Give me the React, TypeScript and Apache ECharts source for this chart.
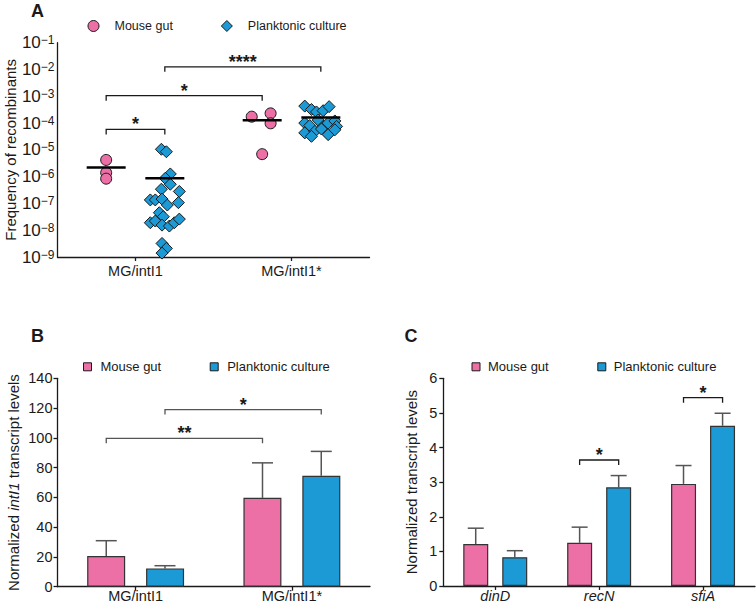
import React, { useEffect, useRef } from 'react';
import * as echarts from 'echarts';

const FONT = '"Liberation Sans", Arial, Helvetica, sans-serif';
const PINK = '#EC6FA6';
const BLUE = '#1B9AD6';
const INK = '#1a1a1a';
const GREY = '#555555';
const SIDE = 0.188; // offset of each series from category centre, in category widths

// ---------- Panel A: frequency of recombinants ----------
const A_CATEGORIES = ['MG/intI1', 'MG/intI1*'];
const A_MOUSE_GUT = [
  [4.2e-6, 1.4e-6, 8.4e-7],
  [1.73e-4, 2.3e-4, 9.8e-5, 6.9e-6],
];
const A_MOUSE_JITTER = [
  [0, 0, 0],
  [-0.067, 0.054, 0.054, 0],
];
const A_PLANKTONIC = [
  [1.05e-5, 8.5e-6, 1.26e-6, 8.7e-7, 5.2e-7, 3.4e-7, 2.8e-7, 1.35e-7, 1.35e-7, 1.46e-7, 8.7e-8, 1.07e-7,
    4.5e-8, 3.2e-8, 1.9e-8, 2.2e-8, 1.55e-8, 1.43e-8, 1.9e-8, 2.6e-8, 3.2e-9, 2.1e-9, 1.4e-9],
  [4.3e-4, 3.2e-4, 2.6e-4, 2.9e-4, 4.1e-4, 1.3e-4, 1.0e-4, 8.1e-5, 7.5e-5, 1.0e-4, 1.2e-4, 7.5e-5,
    4.3e-5, 4.9e-5, 6.0e-5, 3.7e-5, 5.6e-5, 3.2e-5],
];
const A_PLANKTONIC_JITTER = [
  [-0.022, 0.01, 0.035, 0.003, 0.035, -0.022, 0.093, -0.093, -0.061, -0.018, 0.016, 0.087,
    -0.035, -0.01, -0.093, -0.061, -0.018, 0.029, 0.061, 0.093, -0.018, 0.01, -0.018],
  [-0.103, -0.06, -0.028, 0.015, 0.053, -0.017, -0.103, -0.071, 0.015, 0.047, 0.09, 0.101,
    -0.103, -0.038, 0.004, 0.047, 0.09, -0.06],
];
const A_MEAN_MOUSE = [2.2e-6, 1.28e-4];
const A_MEAN_PLANKTONIC = [8.7e-7, 1.6e-4];
// [fromCategory, height, toCategory, fromSide, toSide]
const A_BRACKETS = [
  [0, 5.8e-5, 0, -1, 1],
  [0, 1.05e-3, 1, -1, -1],
  [0, 1.26e-2, 1, 1, 1],
];
const A_BRACKET_LABELS = ['*', '*', '****'];

// ---------- Panel B: intI1 transcript levels ----------
const B_CATEGORIES = ['MG/intI1', 'MG/intI1*'];
const B_MOUSE_GUT = [20.6, 59.7];
const B_MOUSE_GUT_SD = [10.3, 23.5];
const B_PLANKTONIC = [12.3, 74.5];
const B_PLANKTONIC_SD = [1.8, 16.4];
const B_BRACKETS = [
  [0, 99.7, 1, -1, -1],
  [0, 119, 1, 1, 1],
];
const B_BRACKET_LABELS = ['**', '*'];

// ---------- Panel C: SOS gene transcript levels ----------
const C_CATEGORIES = ['dinD', 'recN', 'sfiA'];
const C_MOUSE_GUT = [1.21, 1.25, 2.95];
const C_MOUSE_GUT_SD = [0.46, 0.45, 0.53];
const C_PLANKTONIC = [0.83, 2.85, 4.63];
const C_PLANKTONIC_SD = [0.19, 0.34, 0.36];
const C_BRACKETS = [
  [1, 3.64, 1, -1, 1],
  [2, 5.44, 2, -1, 1],
];
const C_BRACKET_LABELS = ['*', '*'];

const bandOf = (api: any, y: number) => api.coord([1, y])[0] - api.coord([0, y])[0];

function bracketSeries(xi: number, yi: number, data: number[][], labels: string[], color: string) {
  return {
    type: 'custom',
    xAxisIndex: xi,
    yAxisIndex: yi,
    clip: false,
    silent: true,
    z: 6,
    encode: { x: 0, y: 1 },
    data,
    renderItem: (params: any, api: any) => {
      const c0 = api.value(0);
      const y = api.value(1);
      const c1 = api.value(2);
      const s0 = api.value(3);
      const s1 = api.value(4);
      const band = bandOf(api, y);
      const p = api.coord([c0, y]);
      const q = api.coord([c1, y]);
      const x0 = p[0] + s0 * SIDE * band;
      const x1 = q[0] + s1 * SIDE * band;
      const py = p[1];
      return {
        type: 'group',
        children: [
          {
            type: 'polyline',
            shape: { points: [[x0, py + 5], [x0, py], [x1, py], [x1, py + 5]] },
            style: { stroke: color, lineWidth: 1.3, fill: null },
          },
          {
            type: 'text',
            x: (x0 + x1) / 2,
            y: py - 5,
            style: {
              text: labels[params.dataIndex],
              fontSize: 18,
              fontWeight: 'bold',
              fontFamily: FONT,
              fill: INK,
              align: 'center',
              verticalAlign: 'middle',
            },
          },
        ],
      };
    },
  };
}

function errorSeries(xi: number, yi: number, means: number[][], sds: number[][], cap: number) {
  const data: number[][] = [];
  means.forEach((arr, s) => {
    arr.forEach((m, c) => data.push([c, m, sds[s][c], s === 0 ? -1 : 1]));
  });
  return {
    type: 'custom',
    xAxisIndex: xi,
    yAxisIndex: yi,
    clip: false,
    silent: true,
    z: 1,
    encode: { x: 0, y: 1 },
    data,
    renderItem: (params: any, api: any) => {
      const c = api.value(0);
      const m = api.value(1);
      const sd = api.value(2);
      const side = api.value(3);
      const band = bandOf(api, m);
      const p0 = api.coord([c, m]);
      const p1 = api.coord([c, m + sd]);
      const x = p0[0] + side * SIDE * band;
      const st = { stroke: GREY, lineWidth: 1.5 };
      return {
        type: 'group',
        children: [
          { type: 'line', shape: { x1: x, y1: p0[1], x2: x, y2: p1[1] }, style: st },
          { type: 'line', shape: { x1: x - cap / 2, y1: p1[1], x2: x + cap / 2, y2: p1[1] }, style: st },
        ],
      };
    },
  };
}

function meanSeries(xi: number, yi: number) {
  const data: number[][] = [];
  A_MEAN_MOUSE.forEach((m, c) => data.push([c, m, -1]));
  A_MEAN_PLANKTONIC.forEach((m, c) => data.push([c, m, 1]));
  return {
    type: 'custom',
    xAxisIndex: xi,
    yAxisIndex: yi,
    clip: false,
    silent: true,
    z: 5,
    encode: { x: 0, y: 1 },
    data,
    renderItem: (params: any, api: any) => {
      const c = api.value(0);
      const m = api.value(1);
      const side = api.value(2);
      const band = bandOf(api, m);
      const p = api.coord([c, m]);
      const x = p[0] + side * SIDE * band;
      const hw = 0.125 * band;
      return {
        type: 'line',
        shape: { x1: x - hw, y1: p[1], x2: x + hw, y2: p[1] },
        style: { stroke: '#000', lineWidth: 2.5 },
      };
    },
  };
}

const axisLineStyle = { show: true, onZero: false, lineStyle: { color: INK, width: 1.3 } };
const labelBase = { fontFamily: FONT, color: INK };

function catAxis(grid: number, data: string[], margin: number, italic = false) {
  return {
    type: 'category',
    gridIndex: grid,
    data,
    boundaryGap: true,
    axisLine: axisLineStyle,
    axisTick: { show: true, alignWithLabel: true, length: 4, lineStyle: { color: INK, width: 1.3 } },
    axisLabel: { ...labelBase, fontSize: 14.5, margin, fontStyle: italic ? 'italic' : 'normal' },
    splitLine: { show: false },
  };
}

function legendFor(left: number, top: number, size: number, gap: number, pad: number, icons: string[], fs: number) {
  return {
    left,
    top,
    orient: 'horizontal',
    itemWidth: size,
    itemHeight: size,
    itemGap: gap,
    selectedMode: false,
    padding: 0,
    textStyle: { ...labelBase, fontSize: fs, padding: [0, 0, 0, pad] },
    data: [
      { name: 'Mouse gut', icon: icons[0], itemStyle: { color: PINK, borderColor: INK, borderWidth: 1 } },
      { name: 'Planktonic culture', icon: icons[1], itemStyle: { color: BLUE, borderColor: INK, borderWidth: 1 } },
    ],
  };
}

export default function App() {
  const ref = useRef<HTMLDivElement>(null);
  useEffect(() => {
    document.body.style.margin = '0';
    const chart = echarts.init(ref.current!, null, { renderer: 'svg' });

    const mouseScatter: number[][] = [];
    A_MOUSE_GUT.forEach((arr, c) => arr.forEach((v, j) => mouseScatter.push([c - SIDE + A_MOUSE_JITTER[c][j], v])));
    const plankScatter: number[][] = [];
    A_PLANKTONIC.forEach((arr, c) => arr.forEach((v, j) => plankScatter.push([c + SIDE + A_PLANKTONIC_JITTER[c][j], v])));

    const option: any = {
      animation: false,
      backgroundColor: '#fff',
      textStyle: { fontFamily: FONT },
      grid: [
        { left: 57.5, top: 42.7, width: 312, height: 214.3 },
        { left: 57.5, top: 378.3, width: 312.5, height: 208.4 },
        { left: 443.3, top: 378.3, width: 311.7, height: 207.7 },
      ],
      legend: [
        legendFor(87.5, 19.5, 11, 48, 10.5, ['circle', 'diamond'], 12.5),
        legendFor(83, 360.3, 8, 48.5, 4, ['rect', 'rect'], 13),
        legendFor(471.5, 360.3, 8, 48.6, 3, ['rect', 'rect'], 13),
      ],
      xAxis: [
        catAxis(0, A_CATEGORIES, 6.5),
        { type: 'value', gridIndex: 0, min: -0.5, max: 1.5, show: false, axisLine: { show: false, onZero: false } },
        catAxis(1, B_CATEGORIES, 2),
        catAxis(2, C_CATEGORIES, 2, true),
      ],
      yAxis: [
        {
          type: 'log',
          gridIndex: 0,
          logBase: 10,
          min: 1e-9,
          max: 1e-1,
          splitNumber: 8,
          axisLine: axisLineStyle,
          axisTick: { show: false },
          splitLine: { show: false },
          minorTick: { show: false },
          axisLabel: {
            margin: 3,
            formatter: (v: number) => {
              const e = Math.round(Math.log10(v));
              return `{b|10}{s|${e < 0 ? '\u2212' : ''}${Math.abs(e)}}`;
            },
            rich: {
              b: { ...labelBase, fontSize: 17 },
              s: { ...labelBase, fontSize: 12, verticalAlign: 'top' },
            },
          },
          name: 'Frequency of recombinants',
          nameLocation: 'middle',
          nameGap: 40,
          nameTextStyle: { ...labelBase, fontSize: 15 },
        },
        {
          type: 'value',
          gridIndex: 1,
          min: 0,
          max: 140,
          interval: 20,
          axisLine: axisLineStyle,
          axisTick: { show: true, length: 4, lineStyle: { color: INK, width: 1.3 } },
          splitLine: { show: false },
          axisLabel: { ...labelBase, fontSize: 14.5, margin: 5 },
          name: 'Normalized {i|intI1} transcript levels',
          nameLocation: 'middle',
          nameGap: 37,
          nameTextStyle: { ...labelBase, fontSize: 15, rich: { i: { ...labelBase, fontSize: 15, fontStyle: 'italic' } } },
        },
        {
          type: 'value',
          gridIndex: 2,
          min: 0,
          max: 6,
          interval: 1,
          axisLine: axisLineStyle,
          axisTick: { show: true, length: 4, lineStyle: { color: INK, width: 1.3 } },
          splitLine: { show: false },
          axisLabel: { ...labelBase, fontSize: 14.5, margin: 6 },
          name: 'Normalized transcript levels',
          nameLocation: 'middle',
          nameGap: 24,
          nameTextStyle: { ...labelBase, fontSize: 15 },
        },
      ],
      graphic: [
        { type: 'text', x: 37.5, y: 10.5, style: { text: 'A', fontSize: 18, fontWeight: 'bold', fontFamily: FONT, fill: INK, align: 'center', verticalAlign: 'middle' } },
        { type: 'text', x: 37.5, y: 336, style: { text: 'B', fontSize: 18, fontWeight: 'bold', fontFamily: FONT, fill: INK, align: 'center', verticalAlign: 'middle' } },
        { type: 'text', x: 411, y: 336, style: { text: 'C', fontSize: 18, fontWeight: 'bold', fontFamily: FONT, fill: INK, align: 'center', verticalAlign: 'middle' } },
      ],
      series: [
        {
          name: 'Mouse gut',
          type: 'scatter',
          xAxisIndex: 1,
          yAxisIndex: 0,
          symbol: 'circle',
          symbolSize: 11,
          z: 3,
          itemStyle: { color: PINK, borderColor: INK, borderWidth: 1, opacity: 1 },
          data: mouseScatter,
        },
        {
          name: 'Planktonic culture',
          type: 'scatter',
          xAxisIndex: 1,
          yAxisIndex: 0,
          symbol: 'diamond',
          symbolSize: 12,
          z: 3,
          itemStyle: { color: BLUE, borderColor: INK, borderWidth: 1, opacity: 1 },
          data: plankScatter,
        },
        meanSeries(0, 0),
        bracketSeries(0, 0, A_BRACKETS, A_BRACKET_LABELS, INK),
        {
          name: 'Mouse gut',
          type: 'bar',
          xAxisIndex: 2,
          yAxisIndex: 1,
          barWidth: 38,
          barGap: '55%',
          z: 2,
          itemStyle: { color: PINK, borderColor: '#333', borderWidth: 1.2 },
          data: B_MOUSE_GUT,
        },
        {
          name: 'Planktonic culture',
          type: 'bar',
          xAxisIndex: 2,
          yAxisIndex: 1,
          barWidth: 38,
          barGap: '55%',
          z: 2,
          itemStyle: { color: BLUE, borderColor: '#333', borderWidth: 1.2 },
          data: B_PLANKTONIC,
        },
        errorSeries(2, 1, [B_MOUSE_GUT, B_PLANKTONIC], [B_MOUSE_GUT_SD, B_PLANKTONIC_SD], 21),
        bracketSeries(2, 1, B_BRACKETS, B_BRACKET_LABELS, GREY),
        {
          name: 'Mouse gut',
          type: 'bar',
          xAxisIndex: 3,
          yAxisIndex: 2,
          barWidth: 25,
          barGap: '56%',
          z: 2,
          itemStyle: { color: PINK, borderColor: '#333', borderWidth: 1.2 },
          data: C_MOUSE_GUT,
        },
        {
          name: 'Planktonic culture',
          type: 'bar',
          xAxisIndex: 3,
          yAxisIndex: 2,
          barWidth: 25,
          barGap: '56%',
          z: 2,
          itemStyle: { color: BLUE, borderColor: '#333', borderWidth: 1.2 },
          data: C_PLANKTONIC,
        },
        errorSeries(3, 2, [C_MOUSE_GUT, C_PLANKTONIC], [C_MOUSE_GUT_SD, C_PLANKTONIC_SD], 16),
        bracketSeries(3, 2, C_BRACKETS, C_BRACKET_LABELS, INK),
      ],
    };
    chart.setOption(option);
    return () => chart.dispose();
  }, []);
  return <div ref={ref} style={{ position: 'absolute', left: 0, top: 0, width: 756, height: 606 }} />;
}
